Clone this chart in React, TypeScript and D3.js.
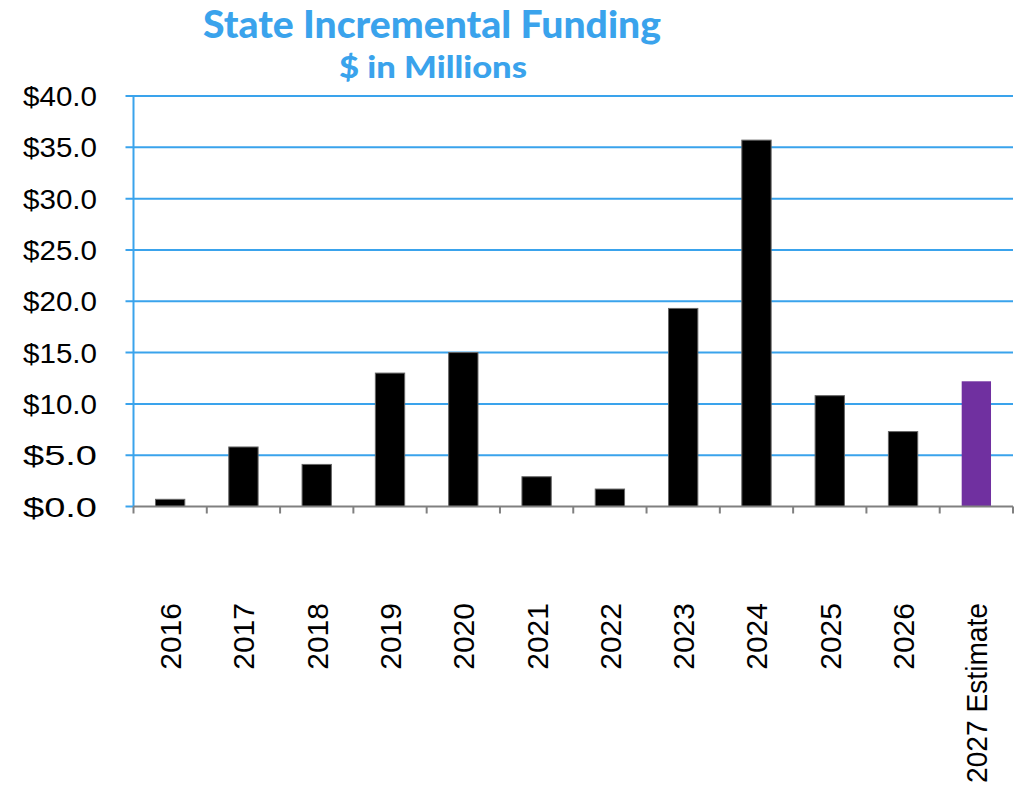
import React, { useEffect, useRef } from 'react';
import * as d3 from 'd3';

const categories = ['2016', '2017', '2018', '2019', '2020', '2021', '2022', '2023', '2024', '2025', '2026', '2027 Estimate'];
const funding = [0.7, 5.8, 4.1, 13.0, 15.0, 2.9, 1.7, 19.3, 35.7, 10.8, 7.3, 12.2];
const yTicks = [0, 5, 10, 15, 20, 25, 30, 35, 40];
const titleLines = ['State Incremental Funding', '$ in Millions'];

const BLUE = '#3aa3ec';
const PURPLE = '#7030a0';

const App = () => {
  const chartRef = useRef<SVGSVGElement | null>(null);

  useEffect(() => {
    const svg = d3.select(chartRef.current);
    svg.selectAll('*').remove();

    const left = 133.5;
    const right = 1013;
    const top = 96;
    const bottom = 506.5;

    const xScale = d3
      .scaleBand<string>()
      .domain(categories)
      .range([left, right])
      .paddingInner(0.6)
      .paddingOuter(0.3);
    const yScale = d3.scaleLinear().domain([0, 40]).range([bottom, top]);

    const step = xScale.step();
    const gap = (step - xScale.bandwidth()) / 2;

    // Gridlines (blue) with small tick stubs on the left
    svg
      .append('g')
      .selectAll('line')
      .data(yTicks)
      .enter()
      .append('line')
      .attr('x1', left - 8)
      .attr('x2', (d) => (d === 0 ? left : right))
      .attr('y1', (d) => yScale(d))
      .attr('y2', (d) => yScale(d))
      .attr('stroke', BLUE)
      .attr('stroke-width', 2);

    // Y axis line
    svg
      .append('line')
      .attr('x1', left)
      .attr('x2', left)
      .attr('y1', yScale(40))
      .attr('y2', yScale(0))
      .attr('stroke', BLUE)
      .attr('stroke-width', 2);

    // Y labels
    svg
      .append('g')
      .selectAll('text')
      .data(yTicks)
      .enter()
      .append('text')
      .attr('x', 97)
      .attr('y', (d) => yScale(d))
      .attr('dy', '0.36em')
      .attr('text-anchor', 'end')
      .attr('textLength', 74)
      .attr('lengthAdjust', 'spacingAndGlyphs')
      .style('font-family', '"Liberation Sans", Arial, sans-serif')
      .style('font-size', '28px')
      .style('fill', '#000')
      .text((d) => `$${d.toFixed(1)}`);

    // Bars
    svg
      .append('g')
      .selectAll('rect')
      .data(categories)
      .enter()
      .append('rect')
      .attr('x', (d) => xScale(d) as number)
      .attr('y', (d, i) => yScale(funding[i]))
      .attr('width', xScale.bandwidth())
      .attr('height', (d, i) => yScale(0) - yScale(funding[i]))
      .attr('fill', (d, i) => (i === categories.length - 1 ? PURPLE : '#000'))
      .attr('stroke', (d, i) => (i === categories.length - 1 ? 'none' : '#666'))
      .attr('stroke-width', 1);

    // X axis line and ticks (gray)
    svg
      .append('line')
      .attr('x1', left)
      .attr('x2', right)
      .attr('y1', bottom)
      .attr('y2', bottom)
      .attr('stroke', '#808080')
      .attr('stroke-width', 2);

    const tickXs = categories.map((d) => (xScale(d) as number) - gap).concat([right]);
    svg
      .append('g')
      .selectAll('line')
      .data(tickXs)
      .enter()
      .append('line')
      .attr('x1', (d) => d)
      .attr('x2', (d) => d)
      .attr('y1', bottom)
      .attr('y2', bottom + 7)
      .attr('stroke', '#808080')
      .attr('stroke-width', 2);

    // X labels, rotated; the long one is squeezed to fit like the reference
    svg
      .append('g')
      .selectAll('text')
      .data(categories)
      .enter()
      .append('text')
      .attr(
        'transform',
        (d) => `translate(${(xScale(d) as number) + xScale.bandwidth() / 2 + 11},603) rotate(-90)`
      )
      .attr('text-anchor', 'end')
      .style('font-family', '"Liberation Sans", Arial, sans-serif')
      .style('font-size', '30px')
      .style('fill', '#000')
      .text((d) => d)
      .each(function () {
        const el = this as SVGTextElement;
        if (el.getComputedTextLength() > 180) {
          el.setAttribute('textLength', '180');
          el.setAttribute('lengthAdjust', 'spacingAndGlyphs');
        }
      });

    // Title
    svg
      .append('text')
      .attr('x', 432)
      .attr('y', 38)
      .attr('text-anchor', 'middle')
      .attr('textLength', 458)
      .attr('lengthAdjust', 'spacingAndGlyphs')
      .style('font-family', 'Lato, "Open Sans", sans-serif')
      .style('font-weight', 900)
      .style('font-size', '37px')
      .style('fill', BLUE)
      .text(titleLines[0]);

    svg
      .append('text')
      .attr('x', 433)
      .attr('y', 78)
      .attr('text-anchor', 'middle')
      .attr('textLength', 188)
      .attr('lengthAdjust', 'spacingAndGlyphs')
      .style('font-family', 'Lato, "Open Sans", sans-serif')
      .style('font-weight', 900)
      .style('font-size', '31px')
      .style('fill', BLUE)
      .text(titleLines[1]);
  }, []);

  return (
    <svg
      ref={chartRef}
      width={1014}
      height={787}
      style={{ position: 'absolute', left: 0, top: 0, background: '#fff' }}
    />
  );
};

export default App;
